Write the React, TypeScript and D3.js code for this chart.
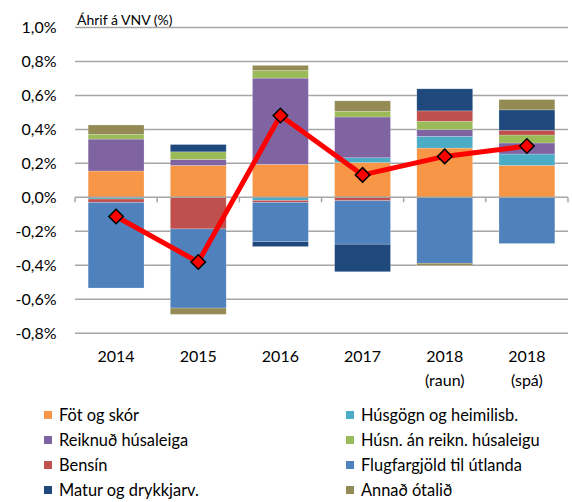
import { useRef, useEffect } from 'react';
import * as d3 from 'd3';

const CATEGORIES = ['2014', '2015', '2016', '2017', '2018 (raun)', '2018 (spá)'];
const CATEGORY_LINES: string[][] = [['2014'], ['2015'], ['2016'], ['2017'], ['2018', '(raun)'], ['2018', '(spá)']];

const SERIES_NAMES = [
  'Föt og skór',
  'Húsgögn og heimilisb.',
  'Reiknuð húsaleiga',
  'Húsn. án reikn. húsaleigu',
  'Bensín',
  'Flugfargjöld til útlanda',
  'Matur og drykkjarv.',
  'Annað ótalið',
];

const FOT = [0.155, 0.188, 0.194, 0.205, 0.29, 0.188];
const HUSGOGN = [-0.01, 0, -0.018, 0.028, 0.069, 0.067];
const REIKNUD = [0.188, 0.035, 0.508, 0.24, 0.04, 0.065];
const HUSN = [0.028, 0.045, 0.045, 0.034, 0.049, 0.047];
const BENSIN = [-0.02, -0.186, -0.012, -0.02, 0.061, 0.028];
const FLUG = [-0.504, -0.466, -0.231, -0.256, -0.388, -0.272];
const MATUR = [0, 0.043, -0.029, -0.162, 0.13, 0.12];
const ANNAD = [0.055, -0.037, 0.03, 0.061, -0.012, 0.061];

const TOTAL = [-0.113, -0.381, 0.482, 0.132, 0.241, 0.302];

const Y_TICKS = [1.0, 0.8, 0.6, 0.4, 0.2, 0, -0.2, -0.4, -0.6, -0.8];

const COLORS = ['#F79646', '#4BACC6', '#8064A2', '#9BBB59', '#C0504D', '#4F81BD', '#1F497D', '#948A54'];

const FONT = 'Lato, "Liberation Sans", sans-serif';

export default function App() {
  const svgRef = useRef<SVGSVGElement>(null);

  useEffect(() => {
    if (!svgRef.current) return;
    const width = 572;
    const height = 502;
    const svg = d3.select(svgRef.current);
    svg.selectAll('*').remove();
    svg.attr('width', width).attr('height', height).attr('viewBox', `0 0 ${width} ${height}`);

    svg.append('rect').attr('width', width).attr('height', height).attr('fill', 'white');

    const plot = { left: 75, right: 568, top: 27.5, bottom: 333.2 };

    const x = d3.scaleBand<string>()
      .domain(CATEGORIES)
      .range([plot.left, plot.right])
      .paddingInner(0.32)
      .paddingOuter(0.16);
    const step = x.step();
    const y = d3.scaleLinear().domain([-0.8, 1.0]).range([plot.bottom, plot.top]);

    // Gridlines
    svg.append('g')
      .selectAll('line')
      .data(Y_TICKS.filter(d => d !== 0))
      .join('line')
      .attr('x1', plot.left).attr('x2', plot.right)
      .attr('y1', d => y(d)).attr('y2', d => y(d))
      .attr('stroke', '#A6A6A6').attr('stroke-width', 1.5);

    // Y labels
    svg.append('g')
      .selectAll('text')
      .data(Y_TICKS)
      .join('text')
      .attr('x', 56.5)
      .attr('y', d => y(d))
      .attr('dy', '0.36em')
      .attr('text-anchor', 'end')
      .attr('font-family', FONT).attr('font-size', '16px').attr('fill', '#000')
      .text(d => d3.format('.1f')(d).replace('.', ',').replace('−', '-') + '%');

    // Axis title
    svg.append('text')
      .attr('x', 77).attr('y', 24.5)
      .attr('font-family', FONT).attr('font-size', '14px').attr('fill', '#000')
      .text('Áhrif á VNV (%)');

    // Stacked bars
    const series = [FOT, HUSGOGN, REIKNUD, HUSN, BENSIN, FLUG, MATUR, ANNAD];
    const rows = CATEGORIES.map((c, i) => {
      const r: Record<string, number | string> = { cat: c };
      SERIES_NAMES.forEach((s, j) => { r[s] = series[j][i]; });
      return r;
    });
    const stacked = d3.stack<Record<string, number | string>>()
      .keys(SERIES_NAMES)
      .value((d, k) => d[k] as number)
      .offset(d3.stackOffsetDiverging)(rows);

    stacked.forEach((layer, j) => {
      svg.append('g')
        .selectAll('rect')
        .data(layer.filter(d => d[1] - d[0] !== 0))
        .join('rect')
        .attr('x', d => x(d.data.cat as string)!)
        .attr('width', x.bandwidth())
        .attr('y', d => y(Math.max(d[0], d[1])))
        .attr('height', d => Math.abs(y(d[0]) - y(d[1])))
        .attr('fill', COLORS[j])
        .attr('stroke', 'rgba(255,255,255,0.35)')
        .attr('stroke-width', 0.6);
    });

    // Zero axis with category ticks
    svg.append('line')
      .attr('x1', plot.left).attr('x2', plot.right)
      .attr('y1', y(0)).attr('y2', y(0))
      .attr('stroke', '#A6A6A6').attr('stroke-width', 1.5);
    svg.append('g')
      .selectAll('line')
      .data(d3.range(CATEGORIES.length + 1))
      .join('line')
      .attr('x1', i => plot.left + i * step).attr('x2', i => plot.left + i * step)
      .attr('y1', y(0)).attr('y2', y(0) + 5)
      .attr('stroke', '#A6A6A6').attr('stroke-width', 1.5);

    // Category labels
    CATEGORIES.forEach((c, i) => {
      const cx = x(c)! + x.bandwidth() / 2;
      CATEGORY_LINES[i].forEach((ln, k) => {
        svg.append('text')
          .attr('x', cx).attr('y', 362 + k * 23.5)
          .attr('text-anchor', 'middle')
          .attr('font-family', FONT).attr('font-size', '16px').attr('fill', '#000')
          .text(ln);
      });
    });

    // Total line
    const pts = CATEGORIES.map((c, i) => [x(c)! + x.bandwidth() / 2, y(TOTAL[i])] as [number, number]);
    svg.append('path')
      .attr('d', d3.line()(pts))
      .attr('fill', 'none')
      .attr('stroke', '#FF0000')
      .attr('stroke-width', 5)
      .attr('stroke-linejoin', 'round');

    svg.append('g')
      .selectAll('path')
      .data(pts)
      .join('path')
      .attr('d', d3.symbol(d3.symbolSquare, 105)())
      .attr('transform', d => `translate(${d[0]},${d[1]}) rotate(45)`)
      .attr('fill', '#FF0000')
      .attr('stroke', '#000')
      .attr('stroke-width', 1.5);

    // Legend
    const legend = svg.append('g');
    SERIES_NAMES.forEach((name, j) => {
      const col = j % 2;
      const row = Math.floor(j / 2);
      const lx = col === 0 ? 44 : 346;
      const ly = 415 + row * 25;
      legend.append('rect')
        .attr('x', lx).attr('y', ly - 4)
        .attr('width', 8).attr('height', 8)
        .attr('fill', COLORS[j]);
      legend.append('text')
        .attr('x', lx + 15).attr('y', ly)
        .attr('dy', '0.36em')
        .attr('font-family', FONT).attr('font-size', '16.4px').attr('fill', '#000')
        .text(name);
    });
  }, []);

  return (
    <div style={{ position: 'absolute', left: 0, top: 0 }}>
      <svg ref={svgRef} style={{ display: 'block' }} />
    </div>
  );
}
